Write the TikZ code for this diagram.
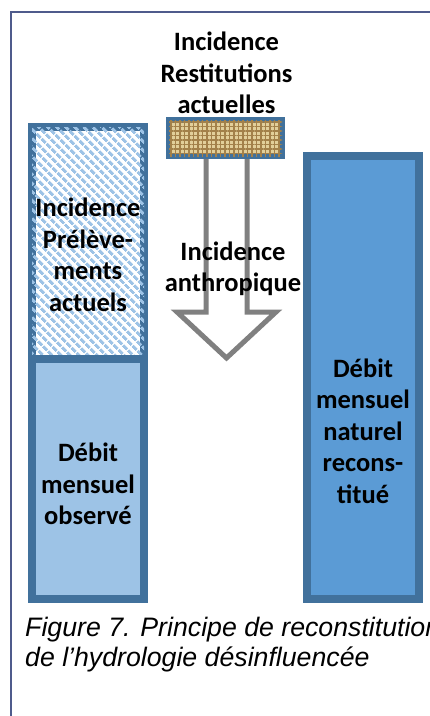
\documentclass[tikz,border=0pt]{standalone}
\usepackage{fontspec}
\setmainfont{Carlito}
\newfontfamily\capfont{Liberation Sans}
\usetikzlibrary{patterns.meta}
\definecolor{frameblue}{HTML}{4F5B8C}
\definecolor{edgeblue}{HTML}{41719C}
\definecolor{lightblue}{HTML}{9DC3E6}
\definecolor{midblue}{HTML}{5B9BD5}
\definecolor{arrowgray}{HTML}{808080}
\definecolor{tan}{HTML}{E2CF9A}
\definecolor{darktan}{HTML}{A3814A}
\tikzset{
  barbox/.style={draw=edgeblue, line width=8pt, inner sep=0pt, minimum width=112pt},
  lbl/.style={font=\fontsize{26.5}{31.5}\selectfont\bfseries, align=center, inner sep=0pt},
  captext/.style={font=\fontsize{26.7}{30}\selectfont\capfont\itshape, align=left, inner sep=0pt, anchor=west},
}
\begin{document}
\begin{tikzpicture}[x=1pt, y=-1pt]
\useasboundingbox (0,0) rectangle (430,716);
% frame
\draw[frameblue, line width=2pt] (11,716) -- (11,12) -- (430,12);
% left column
\node[barbox, minimum height=232pt, fill=white, postaction={pattern={Lines[angle=-45, distance=6.5pt, line width=3.2pt]}, pattern color=lightblue}] (prel) at (88,243) {};
\node[barbox, minimum height=240pt, fill=lightblue] (obs) at (88,479) {};
% right column
\node[barbox, minimum height=443pt, fill=midblue] (nat) at (363,377.5) {};
% arrow
\draw[arrowgray, line width=5pt, fill=white, line join=miter]
  (206,150) -- (206,312) -- (177,312) -- (226.5,358) -- (276,312) -- (247,312) -- (247,150) -- cycle;
% restitutions box
\node[draw=edgeblue, line width=6.5pt, inner sep=0pt, minimum width=113pt, minimum height=36pt, fill=tan,
  postaction={pattern={Hatch[angle=0, distance=4.5pt, line width=1.1pt]}, pattern color=darktan}] (rest) at (225.5,138) {};
% labels
\node[lbl] (trest) at (226.5,73) {Incidence\\Restitutions\\actuelles};
\node[lbl] (tprel) at (88,255) {Incidence\\Prélève-\\ments\\actuels};
\node[lbl] (tanth) at (233,269) {Incidence\\anthropique};
\node[lbl] (tobs) at (88,484) {Débit\\mensuel\\observé};
\node[lbl] (tnat) at (363,431) {Débit\\mensuel\\naturel\\recons-\\titué};
\node[captext] (caption) at (25,645) {Figure 7. Principe de reconstitution\\de l’hydrologie désinfluencée};
\end{tikzpicture}
\end{document}
